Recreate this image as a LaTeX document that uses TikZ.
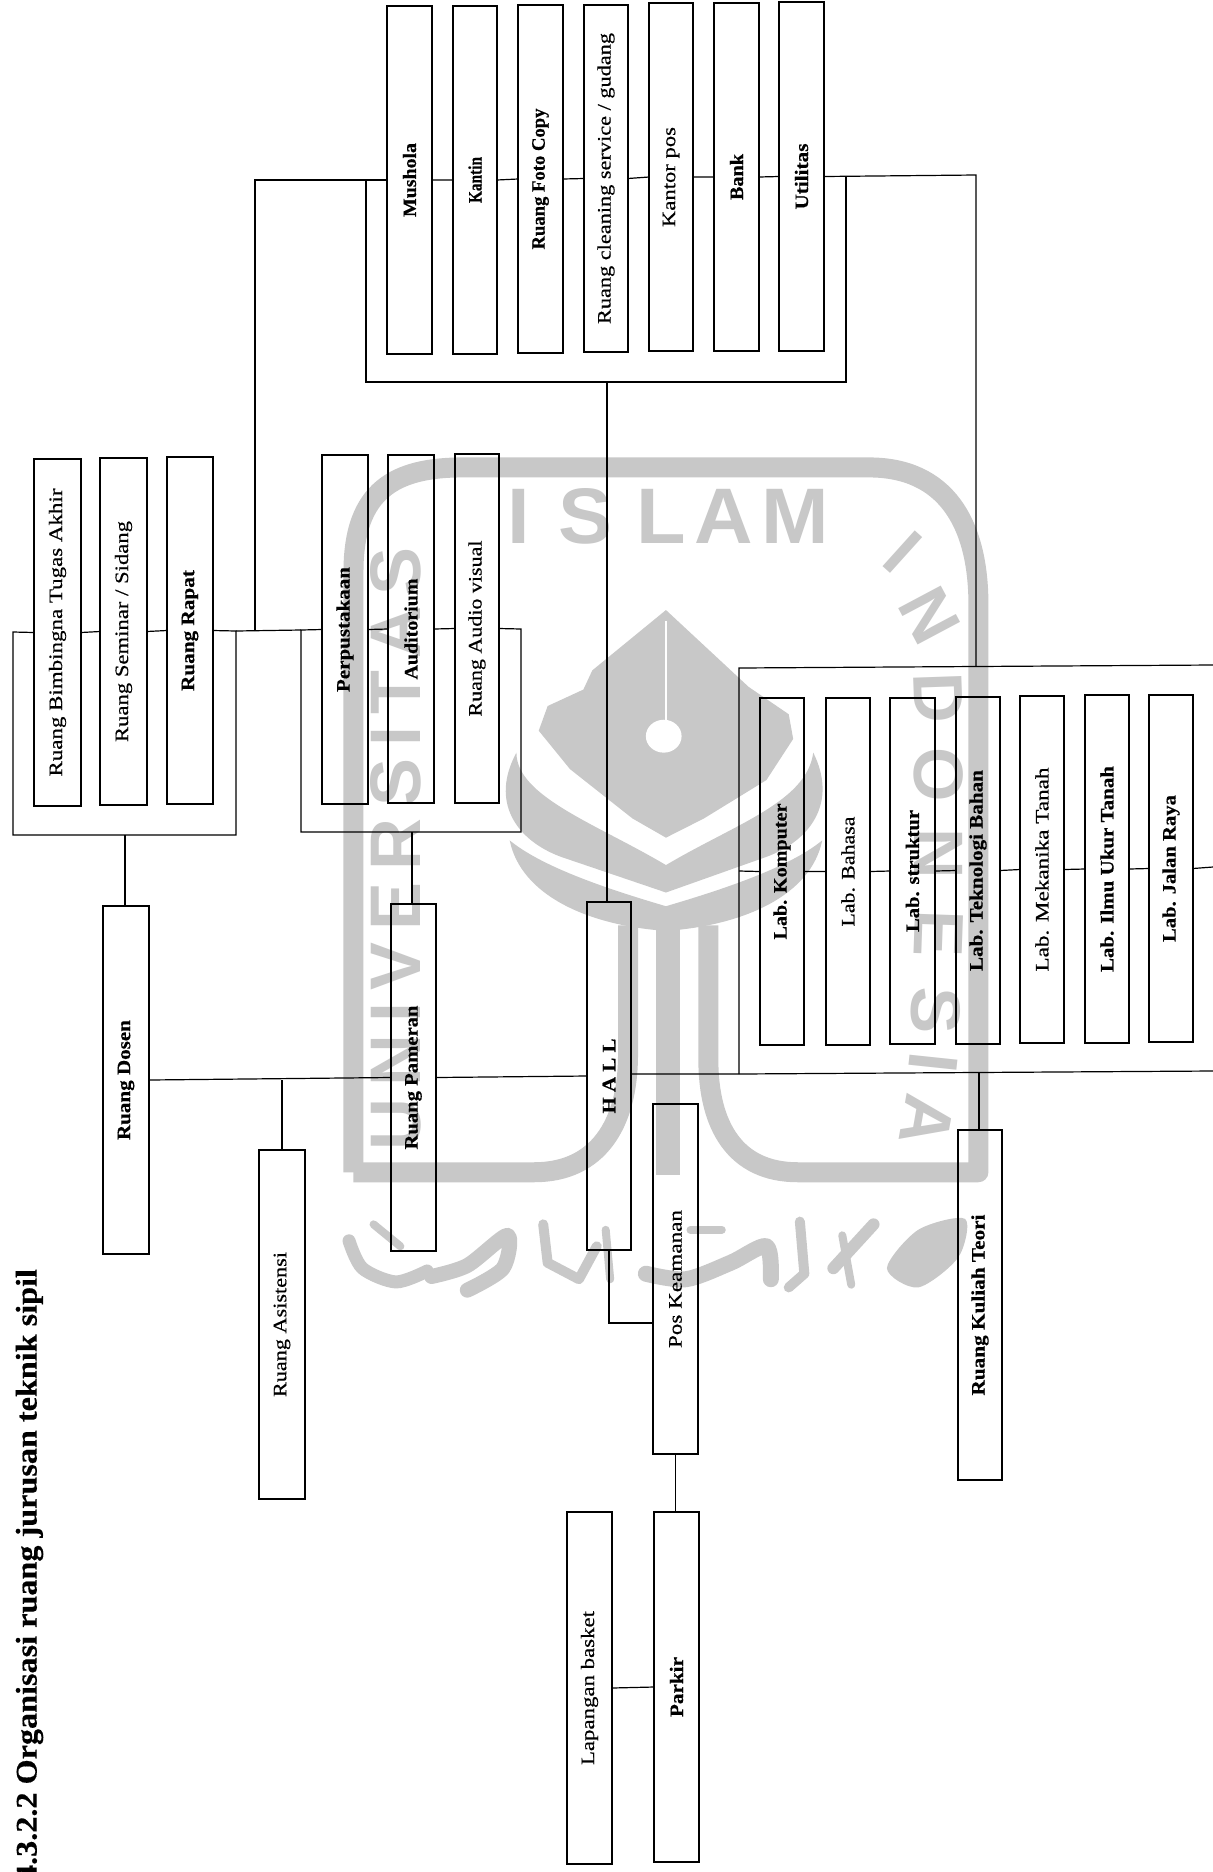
\documentclass[tikz,border=0pt]{standalone}
\usepackage{graphicx}
\usepackage{fontspec}
\setmainfont{Liberation Serif}[FakeBold=0.4]
\newfontfamily\wmfont{Liberation Sans}[Scale=1]
\definecolor{wm}{HTML}{C8C8C8}
\tikzset{
  roombox/.style={draw=black,line width=1.7pt,inner sep=0pt,outer sep=0pt,font=\fontsize{19}{21}\selectfont},
  link/.style={draw=black,line width=1.2pt,line join=miter},
  wmfill/.style={fill=wm,draw=none},
  wmstroke/.style={draw=wm,line cap=round,line join=round},
  wmbar/.style={draw=wm,line cap=butt,line join=round},
  wmtext/.style={text=wm,inner sep=0pt,font=\wmfont\bfseries\fontsize{70}{72}\selectfont}
}
\newcommand{\roombx}[7]{%
  \pgfmathsetmacro\rw{#3-#2}\pgfmathsetmacro\rh{#5-#4}%
  \pgfmathsetmacro\rcx{(#2+#3)/2}\pgfmathsetmacro\rcy{(#4+#5)/2}%
  \node[roombox,minimum width=\rw pt,minimum height=\rh pt] (#1) at (\rcx,\rcy)
    {\rotatebox{90}{\resizebox{#6pt}{\height}{#7}}};}
\begin{document}
\begin{tikzpicture}[x=1pt,y=-1pt]
\useasboundingbox (0,0) rectangle (1213,1872);
\fill[white] (0,0) rectangle (1213,1872);
% ---------- watermark (coordinates of a 2.24 x 1.823 scaled crop) ----------
\begin{scope}[shift={(320,440)},x=0.4464pt,y=-0.5485pt]
  % outer frame
  \draw[wmbar,line width=20pt] (75,1335) -- (75,240) .. controls (75,90) and (170,50) .. (320,50)
     -- (1230,50) .. controls (1400,50) and (1475,150) .. (1475,300) -- (1475,1335) -- (1070,1335)
     .. controls (930,1335) and (870,1250) .. (870,1130) -- (870,885);
  \draw[wmbar,line width=20pt] (75,1335) -- (480,1335) .. controls (620,1335) and (690,1250) .. (690,1120) -- (690,885);
  \draw[wmbar,line width=24pt] (780,880) -- (780,1340);
  % mortar board
  \path[wmfill] (775,310) -- (610,420) -- (590,455) -- (510,485) -- (490,530) -- (560,600)
     -- (700,690) -- (775,725) -- (860,690) -- (1000,620) -- (1060,545) -- (1050,500) -- (960,450) -- cycle;
  \draw[white,line width=2.5pt] (775,330) -- (775,515);
  \fill[white] (770,540) ellipse (40 and 30);
  % crescents
  \path[wmfill] (440,570) .. controls (440,650) and (620,700) .. (775,775)
     .. controls (930,700) and (1090,660) .. (1105,570) .. controls (1160,660) and (1100,730) .. (1000,760)
     -- (775,825) -- (540,760) .. controls (440,730) and (380,660) .. cycle;
  \path[wmfill] (425,730) .. controls (500,780) and (650,820) .. (775,850) .. controls (900,820) and (1050,780) .. (1125,730)
     .. controls (1100,830) and (950,885) .. (775,895) .. controls (600,885) and (450,830) .. cycle;
  % lettering
  \node[wmtext,inner sep=0pt] (wmislam) at (780,140) {\resizebox{321pt}{55pt}{I\hspace{.35em}S\hspace{.3em}L\hspace{.1em}A\hspace{.1em}M}};
  \node[wmtext,rotate=90] (wmuniv) at (170,745) {\resizebox{603pt}{50pt}{U\,N\,I\,V\,E\,R\,S\,I\,T\,A\,S}};
  \node[wmtext,rotate=-42] (wmi) at (1305,205) {I};
  \node[wmtext,rotate=-62] (wmn) at (1365,320) {N};
  \node[wmtext,rotate=-88] (wmd) at (1385,470) {D};
  \node[wmtext,rotate=-90] (wmo) at (1385,610) {O};
  \node[wmtext,rotate=-90] (wmn2) at (1385,755) {N};
  \node[wmtext,rotate=-92] (wme) at (1385,900) {E};
  \node[wmtext,rotate=-92] (wms) at (1380,1040) {S};
  \node[wmtext,rotate=-96] (wmi2) at (1375,1135) {I};
  \node[wmtext,rotate=-100] (wma) at (1360,1240) {A};
  % calligraphy
  \draw[wmstroke,line width=13pt] plot[smooth] coordinates {(65,1460)(95,1510)(170,1535)(240,1515)};
  \draw[wmstroke,line width=8pt] (120,1430) -- (180,1470);
  \draw[wmstroke,line width=15pt] plot[smooth] coordinates {(250,1525)(330,1505)(420,1450)(410,1510)(330,1550)};
  \draw[wmstroke,line width=10pt] (500,1430) -- (510,1500) -- (580,1530) -- (620,1470);
  \draw[wmstroke,line width=8pt] (640,1440) -- (650,1530);
  \draw[wmstroke,line width=16pt] plot[smooth] coordinates {(730,1520)(820,1530)(920,1500)(1000,1470)(1010,1530)};
  \draw[wmstroke,line width=8pt] (830,1440) -- (900,1440);
  \draw[wmstroke,line width=10pt] (1075,1425) -- (1085,1520) -- (1050,1545);
  \draw[wmstroke,line width=12pt] (1150,1510) -- (1240,1430);
  \draw[wmstroke,line width=8pt] (1170,1450) -- (1190,1540);
  \path[wmfill] plot[smooth cycle] coordinates {(1270,1510)(1340,1440)(1445,1420)(1430,1490)(1340,1545)};
\end{scope}
% ---------- title ----------
\node[rotate=90,inner sep=0pt,font=\bfseries\fontsize{30}{32}\selectfont] (title) at (29.5,1575)
  {\resizebox{612pt}{\height}{4.3.2.2 Organisasi ruang jurusan teknik sipil}};
% ---------- top row ----------
\roombx{mush}{387}{432}{6}{354}{74}{\bfseries Mushola}
\roombx{kant}{453}{497}{6}{354}{46}{\bfseries Kantin}
\roombx{foto}{518}{563}{5}{353}{141}{\bfseries Ruang Foto Copy}
\roombx{clean}{584}{628}{5}{352}{291}{Ruang cleaning service / gudang}
\roombx{pos}{649}{693}{3}{351}{100}{Kantor pos}
\roombx{bank}{714}{759}{3}{351}{46}{\bfseries Bank}
\roombx{util}{779}{824}{2}{351}{66}{\bfseries Utilitas}
% ---------- left groups ----------
\roombx{bimb}{34}{81}{459}{806}{288}{Ruang Bimbingna Tugas Akhir}
\roombx{semi}{100}{147}{458}{805}{221}{Ruang Seminar / Sidang}
\roombx{rapat}{167}{213}{457}{804}{121}{\bfseries Ruang Rapat}
\roombx{perp}{322}{368}{455}{804}{125}{\bfseries Perpustakaan}
\roombx{audit}{388}{434}{455}{803}{101}{\bfseries Auditorium}
\roombx{audio}{455}{499}{454}{803}{176}{Ruang Audio visual}
% ---------- middle row ----------
\roombx{dosen}{103}{149}{906}{1254}{120}{\bfseries Ruang Dosen}
\roombx{pamer}{391}{436}{904}{1251}{144}{\bfseries Ruang Pameran}
\roombx{hall}{587}{631}{902}{1250}{75}{\bfseries H A L L}
\roombx{asist}{259}{305}{1150}{1499}{145}{Ruang Asistensi}
\roombx{keam}{653}{698}{1104}{1454}{138}{Pos Keamanan}
\roombx{kuli}{958}{1002}{1130}{1480}{181}{\bfseries Ruang Kuliah Teori}
\roombx{park}{654}{699}{1512}{1862}{60}{\bfseries Parkir}
\roombx{lapa}{567}{612}{1512}{1864}{154}{Lapangan basket}
% ---------- laboratories ----------
\roombx{lkom}{760}{804}{698}{1045}{136}{\bfseries Lab. Komputer}
\roombx{lbah}{826}{870}{698}{1045}{110}{Lab. Bahasa}
\roombx{lstr}{890}{935}{698}{1044}{122}{\bfseries Lab. struktur}
\roombx{ltek}{956}{1000}{697}{1044}{201}{\bfseries Lab. Teknologi Bahan}
\roombx{lmek}{1020}{1064}{696}{1043}{204}{Lab. Mekanika Tanah}
\roombx{lukr}{1085}{1129}{695}{1043}{206}{\bfseries Lab. Ilmu Ukur Tanah}
\roombx{ljal}{1149}{1193}{695}{1042}{147}{\bfseries Lab. Jalan Raya}
% ---------- bend points ----------
\coordinate (gatl) at (13,632); \coordinate (gabl) at (13,835);
\coordinate (gabr) at (236,835); \coordinate (gatr) at (236,631);
\coordinate (gbtl) at (301,630); \coordinate (gbbl) at (301,832);
\coordinate (gbbr) at (521,832); \coordinate (gbtr) at (521,629);
\coordinate (junc) at (255,631); \coordinate (juntop) at (255,180);
\coordinate (gctl) at (366,180); \coordinate (gcbl) at (366,382);
\coordinate (gcbr) at (846,382); \coordinate (gctr) at (846,176);
\coordinate (gcstem) at (607,382);
\coordinate (utilr) at (976,175);
\coordinate (labtl) at (739,668); \coordinate (labtr) at (1213,665);
\coordinate (labtj) at (976,666);
\coordinate (labbl) at (739,1074); \coordinate (labbr) at (1213,1071);
\coordinate (labml) at (739,871); \coordinate (labmr) at (1213,867);
\coordinate (kulstem) at (979,1073);
\coordinate (keamlink) at (653,1323);
\coordinate (gastem) at (125,835);
\coordinate (gbstem) at (412,832);
% ---------- connectors ----------
\draw[link] (bimb.west) -- (gatl) -- (gabl) -- (gabr) -- (gatr) -- (rapat.east);
\draw[link] (bimb.east) -- (semi.west) (semi.east) -- (rapat.west);
\draw[link] (gatr) -- (gbtl);
\draw[link] (perp.west) -- (gbtl) -- (gbbl) -- (gbbr) -- (gbtr) -- (audio.east);
\draw[link] (perp.east) -- (audit.west) (audit.east) -- (audio.west);
\draw[link] (junc) -- (juntop) -- (gctl);
\draw[link] (mush.west) -- (gctl) -- (gcbl) -- (gcbr) -- (gctr);
\draw[link] (mush.east) -- (kant.west) (kant.east) -- (foto.west) (foto.east) -- (clean.west)
            (clean.east) -- (pos.west) (pos.east) -- (bank.west) (bank.east) -- (util.west);
\draw[link] (util.east) -- (utilr) -- (labtj);
\draw[link] (gcstem) -- (gcstem |- hall.north);
\draw[link] (gastem) -- (gastem |- dosen.north);
\draw[link] (gbstem) -- (gbstem |- pamer.north);
\draw[link] (dosen.east) -- (pamer.west);
\draw[link] (pamer.east) -- (hall.west);
\draw[link] (asist.north) -- (asist.north |- dosen.east);
\draw[link] (hall.east |- labbl) -- (labbl) -- (labbr);
\draw[link] (labbl) -- (labml) -- (labtl) -- (labtr);
\draw[link] (labml) -- (lkom.west);
\draw[link] (lkom.east) -- (lbah.west) (lbah.east) -- (lstr.west) (lstr.east) -- (ltek.west)
            (ltek.east) -- (lmek.west) (lmek.east) -- (lukr.west) (lukr.east) -- (ljal.west)
            (ljal.east) -- (labmr);
\draw[link] (kulstem) -- (kulstem |- kuli.north);
\draw[link] (hall.south) |- (keamlink);
\draw[link] (keam.south) -- (keam.south |- park.north);
\draw[link] (lapa.east) -- (park.west);
\end{tikzpicture}
\end{document}
